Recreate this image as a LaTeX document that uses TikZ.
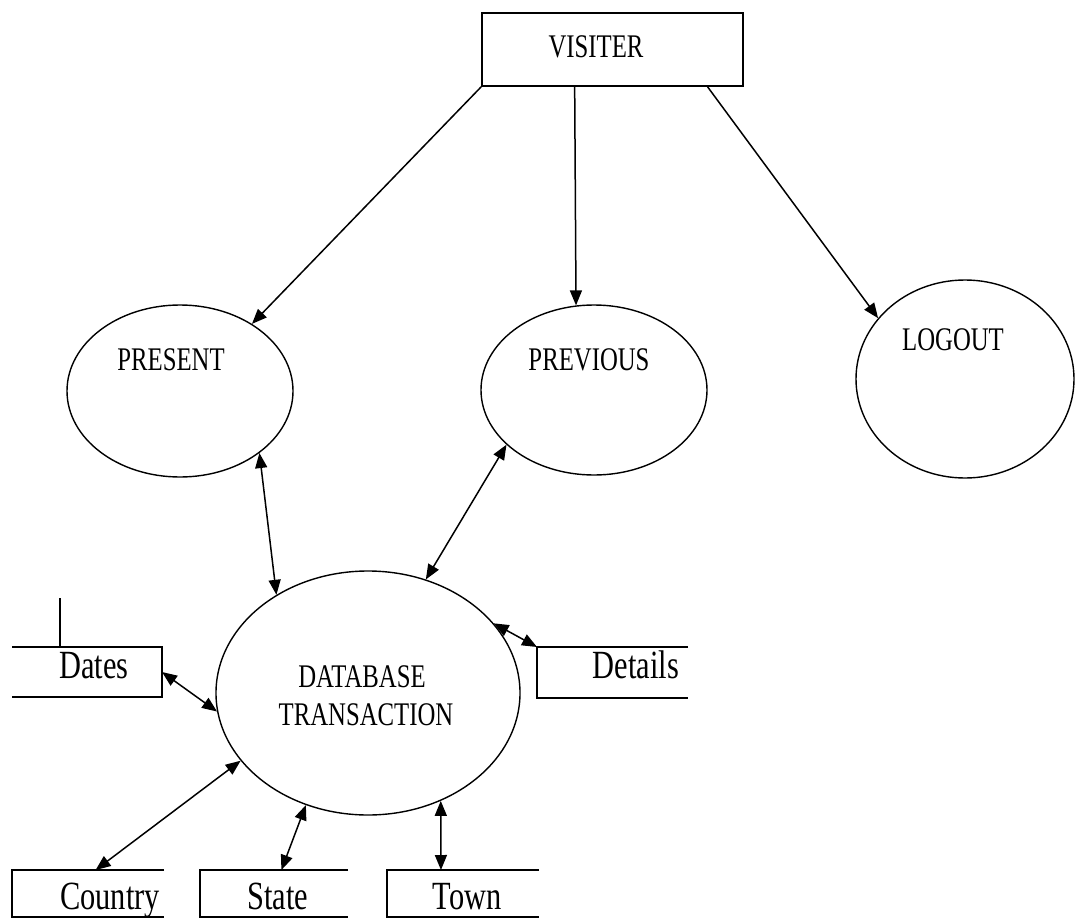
\documentclass[tikz,border=0pt]{standalone}
\usepackage{fontspec}
\setmainfont{Liberation Serif}
\usepackage{graphicx}
\usetikzlibrary{shapes.geometric,arrows.meta,calc}
\newcommand\capl[1]{\scalebox{0.75}[1]{\fontsize{33}{33}\selectfont #1}}
\newcommand\lowl[1]{\scalebox{0.76}[1]{\fontsize{40}{40}\selectfont #1}}
\begin{document}
\begin{tikzpicture}[x=1pt,y=-1pt,
  line/.style={line width=1.5pt},
  proc/.style={ellipse, draw, line width=1.4pt, inner sep=0pt},
  entity/.style={rectangle, draw, line width=1.7pt, inner sep=0pt},
  store/.style={rectangle, inner sep=0pt, outer sep=0pt},
  txt/.style={anchor=base, inner sep=0pt},
  arr/.style={line, -{Triangle[length=15pt,width=12pt]}},
  darr/.style={line, {Triangle[length=15pt,width=12pt]}-{Triangle[length=15pt,width=12pt]}}]
\useasboundingbox (0,0) rectangle (1076,918);
\clip (0,0) rectangle (1076,918);

% external entity
\node[entity, minimum width=261pt, minimum height=73pt] (vis) at (612.5,49.5) {};
\node[txt] (vist) at (596,57) {\capl{VISITER}};

% processes
\node[proc, minimum width=226pt, minimum height=172pt] (pres) at (180,391) {};
\node[txt] (prest) at (171,370) {\capl{PRESENT}};
\node[proc, minimum width=226pt, minimum height=170pt] (prev) at (594,390) {};
\node[txt] (prevt) at (589,370) {\capl{PREVIOUS}};
\node[proc, minimum width=218pt, minimum height=198pt] (logo) at (965,379) {};
\node[txt] (logot) at (953,350) {\capl{LOGOUT}};
\node[proc, minimum width=304pt, minimum height=244pt] (db) at (368,693) {};
\node[txt] (dbt1) at (362,687) {\capl{DATABASE}};
\node[txt] (dbt2) at (366,725) {\capl{TRANSACTION}};

% data stores
\node[store, minimum width=150pt, minimum height=50pt] (dates) at (87,672) {};
\draw[line] (dates.north west) -- (dates.north east) -- (dates.south east) -- (dates.south west);
\node[txt] (datest) at (94,678) {\lowl{Dates}};
\coordinate (mk) at (60,598);
\draw[line] (mk) -- (mk |- dates.north);

\node[store, minimum width=151pt, minimum height=51pt] (details) at (612.5,672.5) {};
\draw[line] (details.north east) -- (details.north west) -- (details.south west) -- (details.south east);
\node[txt] (detailst) at (636,678) {\lowl{Details}};

\node[store, minimum width=152pt, minimum height=47pt] (country) at (88,893.5) {};
\draw[line] (country.north east) -- (country.north west) -- (country.south west) -- (country.south east);
\node[txt] (countryt) at (110,909) {\lowl{Country}};

\node[store, minimum width=148pt, minimum height=47pt] (state) at (274,893.5) {};
\draw[line] (state.north east) -- (state.north west) -- (state.south west) -- (state.south east);
\node[txt] (statet) at (278,909) {\lowl{State}};

\node[store, minimum width=152pt, minimum height=47pt] (town) at (463,893.5) {};
\draw[line] (town.north east) -- (town.north west) -- (town.south west) -- (town.south east);
\node[txt] (townt) at (467,909) {\lowl{Town}};

% connectors
\draw[arr] (vis.south west) -- (pres.43.7);
\draw[arr] ($(vis.south west)!0.356!(vis.south east)$) -- (prev.102.6);
\draw[arr] ($(vis.south west)!0.862!(vis.south east)$) -- (logo.145.3);
\draw[darr] (pres.-38.8) -- (db.133.5);
\draw[darr] (prev.212) -- (db.63.8);
\draw[darr] (db.29.9) -- (details.north west);
\draw[darr] (dates.east) -- (db.187.5);
\draw[darr] (db.208.9) -- ($(country.north west)!0.55!(country.north east)$);
\draw[darr] (db.241.4) -- ($(state.north west)!0.55!(state.north east)$);
\draw[darr] (db.304.5) -- ($(town.north west)!0.355!(town.north east)$);
\end{tikzpicture}
\end{document}
